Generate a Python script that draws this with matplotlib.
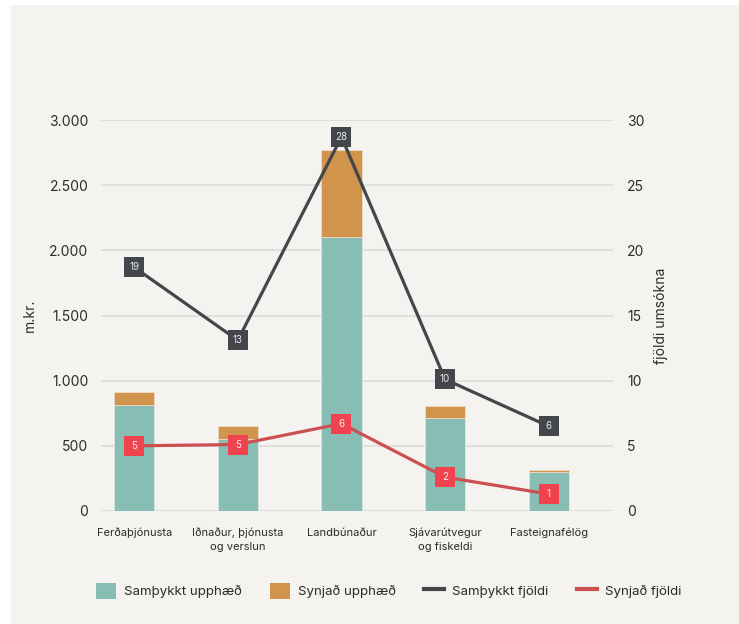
import matplotlib
matplotlib.use("Agg")
import matplotlib.pyplot as plt
from matplotlib.patches import Rectangle, Patch
from matplotlib.lines import Line2D

categories = ["Ferðaþjónusta", "Iðnaður, þjónusta\nog verslun", "Landbúnaður",
              "Sjávarútvegur\nog fiskeldi", "Fasteignafélög"]
approved_amount = [810, 550, 2100, 710, 300]
rejected_amount = [100, 100, 670, 95, 12]
approved_count = [18.7, 13.1, 28.7, 10.1, 6.5]
approved_labels = ["19", "13", "28", "10", "6"]
rejected_count = [5.0, 5.1, 6.7, 2.6, 1.3]
rejected_labels = ["5", "5", "6", "2", "1"]

green = "#87bdb2"
orange = "#d0944c"
dark = "#43464b"
red_line = "#cc4f52"
red_box = "#f0434f"
bg = "#f5f3ef"
txt = "#2b2b2b"

plt.rcParams['font.family'] = ['Inter', 'DejaVu Sans']

fig = plt.figure(figsize=(7.39, 6.24), dpi=100)
fig.patch.set_facecolor("white")
fig.patches.append(Rectangle((11 / 739, 0), 728 / 739, 619 / 624,
                             transform=fig.transFigure, facecolor=bg,
                             edgecolor="none", zorder=-10))

ax = fig.add_axes([101 / 739, 1 - 511 / 624, 512 / 739, 391 / 624])
ax.set_facecolor("none")
x = list(range(len(categories)))

ax.bar(x, approved_amount, width=0.39, color=green, edgecolor="#d8e8e2", linewidth=0.6, zorder=2)
ax.bar(x, rejected_amount, bottom=approved_amount, width=0.39, color=orange,
       edgecolor="#eedcc4", linewidth=0.6, zorder=2)

ax.set_ylim(0, 3000)
ax.set_xlim(-0.32, 4.62)
ax.set_yticks(range(0, 3001, 500))
ax.set_yticklabels(["0", "500", "1.000", "1.500", "2.000", "2.500", "3.000"])
ax.grid(axis="y", color="#dddbd7", linewidth=1.2, zorder=0)
ax.set_axisbelow(True)
for s in ax.spines.values():
    s.set_visible(False)
ax.tick_params(axis="y", length=0, pad=9, labelsize=10, labelcolor=txt)
ax.set_xticks(x)
ax.set_xticklabels(categories, fontsize=8, color=txt, linespacing=1.5)
ax.tick_params(axis="x", length=0, pad=12)
ax.set_ylabel("m.kr.", fontsize=10, color=txt, labelpad=9)

ax2 = ax.twinx()
ax2.set_ylim(0, 30)
ax2.set_yticks(range(0, 31, 5))
ax2.tick_params(axis="y", length=0, pad=10, labelsize=10, labelcolor=txt)
for s in ax2.spines.values():
    s.set_visible(False)
ax2.set_ylabel("fjöldi umsókna", fontsize=10, color=txt, rotation=90, labelpad=7)

ax2.plot(x, approved_count, color=dark, linewidth=2.3, zorder=3)
ax2.plot(x, rejected_count, color=red_line, linewidth=2.3, zorder=3)
ax2.scatter(x, approved_count, marker="s", s=15 ** 2, color=dark, zorder=4, linewidths=0)
ax2.scatter(x, rejected_count, marker="s", s=15 ** 2, color=red_box, zorder=4, linewidths=0)
for xi, v, lab in zip(x, approved_count, approved_labels):
    ax2.text(xi, v, lab, ha="center", va="center", fontsize=7, color="#e8e8e8", zorder=5)
for xi, v, lab in zip(x, rejected_count, rejected_labels):
    ax2.text(xi, v, lab, ha="center", va="center", fontsize=7, color="#fde8e8", zorder=5)

handles = [
    Patch(facecolor=green, edgecolor="none"),
    Patch(facecolor=orange, edgecolor="none"),
    Line2D([0], [0], color=dark, linewidth=3),
    Line2D([0], [0], color=red_line, linewidth=3),
]
labels = ["Samþykkt upphæð", "Synjað upphæð", "Samþykkt fjöldi", "Synjað fjöldi"]
fig.legend(handles, labels, loc="center", bbox_to_anchor=(0.526, 1 - 591 / 624), ncol=4,
           frameon=False, fontsize=9.6, handlelength=1.5, handleheight=1.5,
           columnspacing=2.1, handletextpad=0.6, labelcolor=txt)

fig.savefig("out.png", dpi=100, facecolor=fig.get_facecolor())
